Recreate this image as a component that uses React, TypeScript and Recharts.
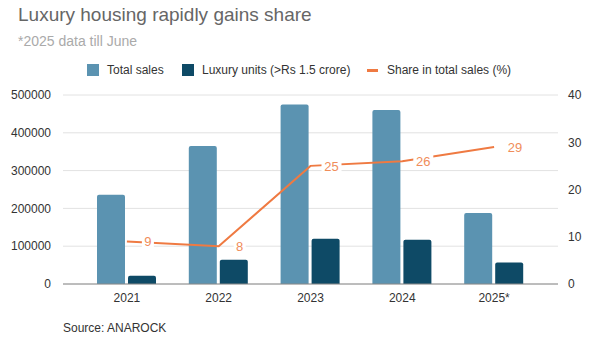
import React from 'react';
import { ComposedChart, Bar, Line, XAxis, YAxis, CartesianGrid, LabelList } from 'recharts';

const years = ['2021', '2022', '2023', '2024', '2025*'];
const totalSales = [236000, 365000, 475000, 460000, 188000];
const luxuryUnits = [22000, 64000, 120000, 117000, 57000];
const shareInSales = [9, 8, 25, 26, 29];
const leftTicks = [0, 100000, 200000, 300000, 400000, 500000];
const rightTicks = [0, 10, 20, 30, 40];

const TOTAL_COLOR = '#5b93b1';
const LUXURY_COLOR = '#0e4a66';
const SHARE_COLOR = '#ef7a42';
const FONT = '"Liberation Sans", Arial, sans-serif';

const data = years.map((year, i) => ({
  year,
  total: totalSales[i],
  luxury: luxuryUnits[i],
  share: shareInSales[i],
}));

// value label sits to the right of the point on a white patch that cuts the line
const ShareLabel = (props: any) => {
  const { x, y, value } = props;
  if (x == null || y == null) return null;
  const cx = x + 21;
  const w = String(value).length > 1 ? 20 : 12;
  return (
    <g>
      <rect x={cx - w / 2} y={y - 8} width={w} height={16} fill="#fff" />
      <text
        x={cx}
        y={y}
        dy={5}
        textAnchor="middle"
        fill="#f08d5a"
        fontSize={13}
        fontFamily={FONT}
      >
        {value}
      </text>
    </g>
  );
};

const LegendItem = ({ left, color, label, line }: { left: number; color: string; label: string; line?: boolean }) => (
  <div style={{ position: 'absolute', top: 63, left, display: 'flex', alignItems: 'center', height: 14 }}>
    {line ? (
      <div style={{ width: 11, height: 3, background: color, marginRight: 9 }} />
    ) : (
      <div style={{ width: 12, height: 12, background: color, marginRight: 8 }} />
    )}
    <span style={{ fontSize: 12, color: '#333', whiteSpace: 'nowrap' }}>{label}</span>
  </div>
);

const App: React.FC = () => {
  return (
    <div style={{ position: 'absolute', left: 0, top: 0, width: 600, height: 338, background: '#fff', fontFamily: FONT }}>
      <div style={{ position: 'absolute', left: 18, top: 4, fontSize: 19, color: '#666', whiteSpace: 'nowrap' }}>
        Luxury housing rapidly gains share
      </div>
      <div style={{ position: 'absolute', left: 18, top: 33, fontSize: 14, color: '#aaa', whiteSpace: 'nowrap' }}>
        *2025 data till June
      </div>

      <LegendItem left={87} color={TOTAL_COLOR} label="Total sales" />
      <LegendItem left={182} color={LUXURY_COLOR} label="Luxury units (>Rs 1.5 crore)" />
      <LegendItem left={367} color={SHARE_COLOR} label="Share in total sales (%)" line />

      <div style={{ position: 'absolute', left: 0, top: 0 }}>
        <ComposedChart
          width={600}
          height={338}
          data={data}
          margin={{ top: 95, right: 0, left: 0, bottom: 24 }}
          barGap={3}
          barSize={28}
        >
          <CartesianGrid vertical={false} stroke="#e2e2e2" yAxisId="left" />
          <XAxis
            dataKey="year"
            height={30}
            padding={{ left: 18, right: 18 }}
            axisLine={{ stroke: '#888' }}
            tickLine={false}
            tick={{ fill: '#333', fontSize: 12, fontFamily: FONT }}
            tickMargin={3}
          />
          <YAxis
            yAxisId="left"
            width={63}
            domain={[0, 500000]}
            ticks={leftTicks}
            axisLine={false}
            tickLine={false}
            tick={{ fill: '#333', fontSize: 12, fontFamily: FONT }}
            tickMargin={6}
          />
          <YAxis
            yAxisId="right"
            orientation="right"
            width={42}
            domain={[0, 40]}
            ticks={rightTicks}
            axisLine={false}
            tickLine={false}
            tick={{ fill: '#333', fontSize: 12, fontFamily: FONT }}
            tickMargin={4}
          />
          <Bar yAxisId="left" dataKey="total" fill={TOTAL_COLOR} radius={[2, 2, 0, 0]} isAnimationActive={false} />
          <Bar yAxisId="left" dataKey="luxury" fill={LUXURY_COLOR} radius={[2, 2, 0, 0]} isAnimationActive={false} />
          <Line
            yAxisId="right"
            dataKey="share"
            type="linear"
            stroke={SHARE_COLOR}
            strokeWidth={2}
            dot={false}
            activeDot={false}
            isAnimationActive={false}
          >
            <LabelList dataKey="share" content={<ShareLabel />} />
          </Line>
        </ComposedChart>
      </div>

      <div style={{ position: 'absolute', left: 63, top: 321, fontSize: 12, color: '#333', whiteSpace: 'nowrap' }}>
        Source: ANAROCK
      </div>
    </div>
  );
};

export default App;
